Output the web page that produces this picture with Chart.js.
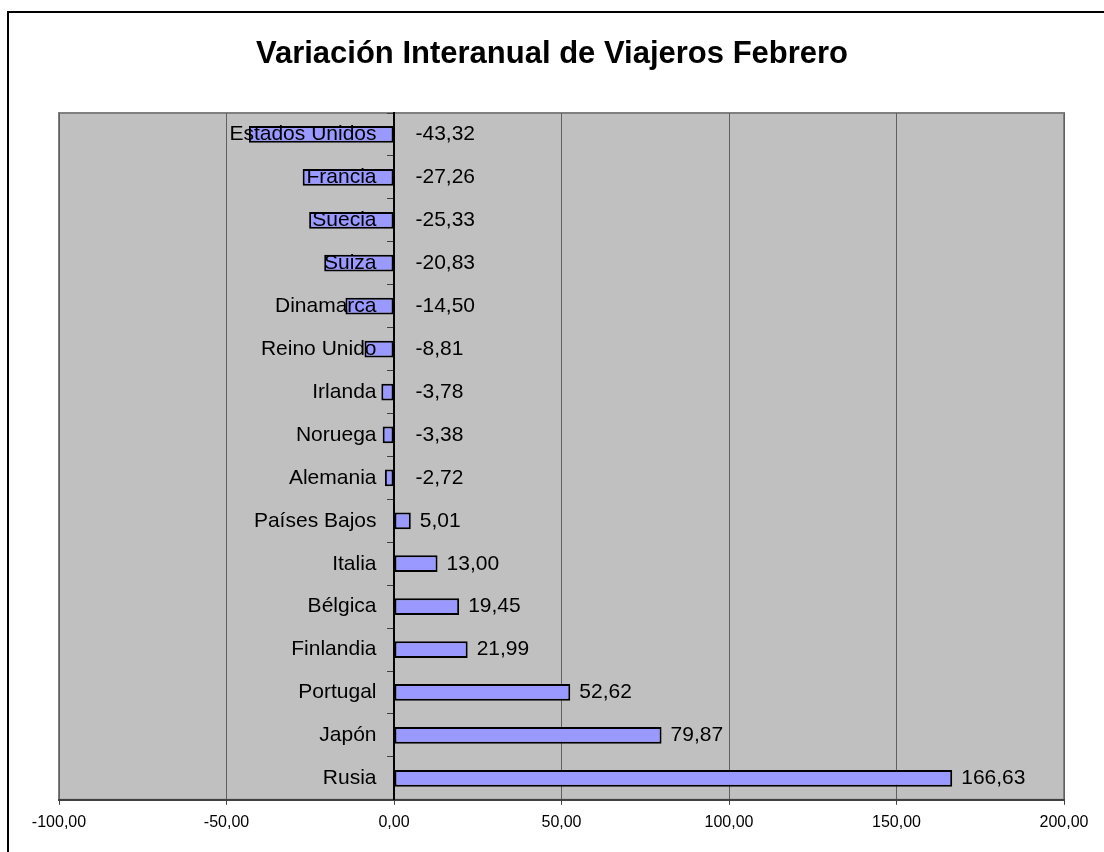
<!DOCTYPE html>
<html>
<head>
<meta charset="utf-8">
<script src="https://cdn.jsdelivr.net/npm/chart.js@4/dist/chart.umd.min.js"></script>
<style>
    html, body { margin: 0; padding: 0; background: #fff; overflow: hidden; }
    #frame {
        position: absolute; left: 7px; top: 11px; width: 1200px; height: 1000px;
        border-left: 2px solid #000; border-top: 2px solid #000;
    }
    #wrap { position: absolute; left: 0; top: 0; width: 1104px; height: 852px; }
</style>
</head>
<body>
<div id="frame"></div>
<div id="wrap"><canvas id="chart" width="1104" height="852"></canvas></div>
<script>
    // Data
    const chartTitle = 'Variación Interanual de Viajeros Febrero';
    const countries = ['Estados Unidos', 'Francia', 'Suecia', 'Suiza', 'Dinamarca', 'Reino Unido',
        'Irlanda', 'Noruega', 'Alemania', 'Países Bajos', 'Italia', 'Bélgica', 'Finlandia',
        'Portugal', 'Japón', 'Rusia'];
    const variation = [-43.32, -27.26, -25.33, -20.83, -14.50, -8.81, -3.78, -3.38, -2.72,
        5.01, 13.00, 19.45, 21.99, 52.62, 79.87, 166.63];
    const xMin = -100;
    const xMax = 200;
    const xStep = 50;

    const font = '"Liberation Sans", Arial, sans-serif';
    const fmt = v => Number(v).toFixed(2).replace('.', ',');

    // gray plot area, its border and the title
    const plotBackground = {
        id: 'plotBackground',
        beforeDraw(chart) {
            const { ctx, chartArea: a } = chart;
            ctx.save();
            ctx.fillStyle = '#c0c0c0';
            ctx.fillRect(a.left, a.top, a.right - a.left, a.bottom - a.top);
            ctx.strokeStyle = '#808080';
            ctx.lineWidth = 2;
            ctx.strokeRect(a.left, a.top, a.right - a.left, a.bottom - a.top);
            ctx.restore();

            ctx.save();
            ctx.font = 'bold 31px ' + font;
            ctx.fillStyle = '#000';
            ctx.textAlign = 'center';
            ctx.textBaseline = 'middle';
            ctx.fillText(chartTitle, chart.width / 2, 54);
            ctx.restore();
        }
    };

    // value labels beside the bars
    const valueLabels = {
        id: 'valueLabels',
        afterDatasetsDraw(chart) {
            const { ctx } = chart;
            const meta = chart.getDatasetMeta(0);
            ctx.save();
            ctx.font = '21px ' + font;
            ctx.fillStyle = '#000';
            ctx.textAlign = 'left';
            ctx.textBaseline = 'middle';
            meta.data.forEach((bar, i) => {
                const v = variation[i];
                const x = v >= 0 ? bar.x + 9 : bar.base + 22;
                ctx.fillText(fmt(v), x, bar.y);
            });
            ctx.restore();
        }
    };

    const ctx = document.getElementById('chart').getContext('2d');
    new Chart(ctx, {
        type: 'bar',
        data: {
            labels: countries,
            datasets: [{
                data: variation,
                backgroundColor: '#9999ff',
                borderColor: '#000',
                borderWidth: 2,
                borderSkipped: false,
                barPercentage: 0.39,
                categoryPercentage: 1
            }]
        },
        options: {
            indexAxis: 'y',
            responsive: false,
            animation: false,
            layout: {
                padding: { left: 59, right: 40, top: 113, bottom: 12 }
            },
            scales: {
                x: {
                    type: 'linear',
                    min: xMin,
                    max: xMax,
                    ticks: {
                        stepSize: xStep,
                        color: '#000',
                        padding: 8,
                        font: { family: font, size: 16 },
                        callback: v => fmt(v)
                    },
                    grid: {
                        color: '#606060',
                        lineWidth: 1,
                        tickLength: 5,
                        tickColor: '#404040'
                    },
                    border: { color: '#404040', width: 2 }
                },
                y: {
                    position: { x: 0 },
                    ticks: {
                        color: '#000',
                        z: 1,
                        font: { family: font, size: 21 },
                        // labels sit a little left of the zero axis
                        callback(v) { return this.getLabelForValue(v) + '   '; }
                    },
                    grid: {
                        drawOnChartArea: false,
                        tickLength: 6,
                        tickColor: '#404040'
                    },
                    border: { color: '#000', width: 2, z: 1 }
                }
            },
            plugins: {
                legend: { display: false },
                title: { display: false },
                tooltip: { enabled: false }
            }
        },
        plugins: [plotBackground, valueLabels]
    });
</script>
</body>
</html>
